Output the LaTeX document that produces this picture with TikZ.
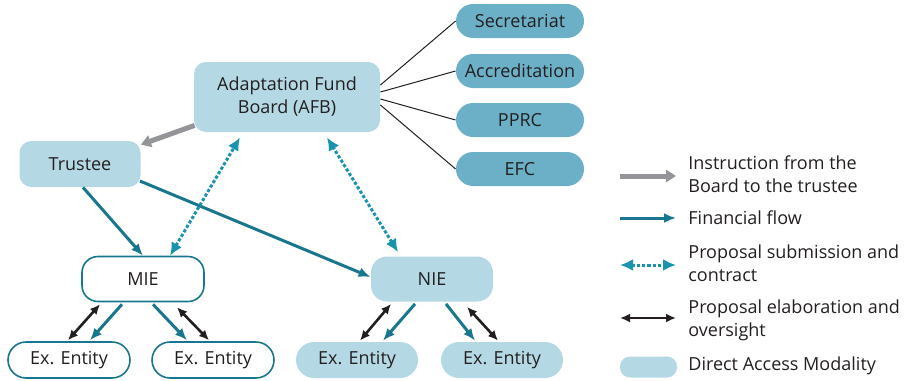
\documentclass[tikz,border=0pt]{standalone}
\usepackage{fontspec}
\setmainfont{Open Sans}
\usepackage{xcolor}
\usetikzlibrary{arrows.meta}

\definecolor{boardblue}{HTML}{B4D8E4}
\definecolor{panelblue}{HTML}{6CB0C8}
\definecolor{flowteal}{HTML}{18778F}
\definecolor{propteal}{HTML}{1A93AE}
\definecolor{instrgray}{HTML}{939598}
\definecolor{inkblack}{HTML}{231F20}

\tikzset{
  box/.style={rectangle,rounded corners=6pt,fill=boardblue,text=inkblack,align=center},
  panel/.style={rectangle,rounded corners=8.5pt,fill=panelblue,text=inkblack,
    minimum width=64pt,minimum height=17pt,inner sep=1pt},
  entity/.style={rectangle,rounded corners=9pt,minimum width=61pt,minimum height=18pt,
    inner sep=1pt,text=inkblack},
  legtext/.style={anchor=west,align=left,text=inkblack,inner sep=0pt}
}

\begin{document}
\begin{tikzpicture}[x=0.5pt,y=-0.5pt,font=\fontsize{9}{11.5}\selectfont]
\useasboundingbox (0,0) rectangle (913,380);

\begin{scope}[every node/.style={box}]
    \node[minimum width=93pt,minimum height=35pt] (AFB) at (287,97) {Adaptation Fund\\Board (AFB)};
    \node[minimum width=60.5pt,minimum height=23pt] (T) at (80,164) {Trustee};
    \node[minimum width=61pt,minimum height=22.5pt,rounded corners=8pt,fill=white,draw=flowteal,thick] (MIE) at (143,279) {MIE};
    \node[minimum width=61pt,minimum height=22.5pt,rounded corners=8pt] (NIE) at (432,279) {NIE};
    \end{scope}

\node[panel] (S) at (520,21) {Secretariat};
\node[panel] (A) at (520,71) {Accreditation};
\node[panel] (P) at (520,120) {PPRC};
\node[panel] (E) at (520,169) {EFC};

\node[entity,fill=white,draw=flowteal,thick] (X1) at (69,360) {Ex. Entity};
\node[entity,fill=white,draw=flowteal,thick] (X2) at (213,360) {Ex. Entity};
\node[entity,fill=boardblue] (X3) at (357,360) {Ex. Entity};
\node[entity,fill=boardblue] (X4) at (502,360) {Ex. Entity};

% board to its committees
\begin{scope}[every edge/.style={draw=inkblack,line width=0.5pt}]
    \path ([shift={(0,-12)}]AFB.east) edge (S.west)
          ([shift={(0,-5)}]AFB.east) edge (A.west)
          ([shift={(0,2)}]AFB.east) edge (P.west)
          ([shift={(0,8)}]AFB.east) edge (E.west);
    \end{scope}

\begin{scope}[every edge/.style={draw}]
    \path [-{Triangle[length=5pt,width=6pt]},instrgray,line width=2.5pt]
        ([shift={(1,-7)}]AFB.south west) edge ([shift={(0,4)}]T.north east);
    \path [-{Latex[length=6pt,width=5pt]},flowteal,line width=1.5pt]
        ([shift={(3,0)}]T.south) edge (MIE.north)
        ([shift={(-1,17)}]T.east) edge ([shift={(0,-2)}]NIE.west)
        ([shift={(-21,2)}]MIE.south) edge ([shift={(21,-1)}]X1.north)
        ([shift={(10,2)}]MIE.south) edge ([shift={(-26,-1)}]X2.north)
        ([shift={(-17,2)}]NIE.south) edge ([shift={(26,-1)}]X3.north)
        ([shift={(14,2)}]NIE.south) edge ([shift={(-27,-1)}]X4.north);
    \path [{Latex[length=6.5pt,width=6pt]}-{Latex[length=6.5pt,width=6pt]},propteal,line width=1.5pt,dash pattern=on 1.6pt off 1pt]
        ([shift={(27,0)}]MIE.north) edge ([shift={(-47,5)}]AFB.south)
        ([shift={(-34,-4)}]NIE.north) edge ([shift={(40,5)}]AFB.south);
    \path [{Latex[length=5pt,width=4.5pt]}-{Latex[length=5pt,width=4.5pt]},inkblack,line width=1.3pt]
        ([shift={(-43,2)}]MIE.south) edge ([shift={(-1,-1)}]X1.north)
        ([shift={(34,5)}]MIE.south) edge ([shift={(-4,-1)}]X2.north)
        ([shift={(-41,2)}]NIE.south) edge ([shift={(3,-1)}]X3.north)
        ([shift={(35,5)}]NIE.south) edge ([shift={(-4,-1)}]X4.north);
    \end{scope}

% legend
\coordinate (L1) at (620,176); \coordinate (R1) at (676,176);
\coordinate (L2) at (620,218); \coordinate (R2) at (676,218);
\coordinate (L3) at (620,265); \coordinate (R3) at (676,265);
\coordinate (L4) at (620,318); \coordinate (R4) at (676,318);
\draw[-{Triangle[length=5pt,width=6pt]},instrgray,line width=2.5pt] (L1) -- (R1);
\draw[-{Latex[length=6pt,width=5pt]},flowteal,line width=1.5pt] (L2) -- (R2);
\draw[{Latex[length=6.5pt,width=6pt]}-{Latex[length=6.5pt,width=6pt]},propteal,line width=1.5pt,dash pattern=on 1.6pt off 1pt] (L3) -- (R3);
\draw[{Latex[length=5pt,width=4.5pt]}-{Latex[length=5pt,width=4.5pt]},inkblack,line width=1.3pt] (L4) -- (R4);
\node[rectangle,rounded corners=5pt,fill=boardblue,minimum width=28.5pt,minimum height=10.5pt] (K) at (648.5,367) {};

\node[legtext] (t1) at (688,174) {Instruction from the\\Board to the trustee};
\node[legtext] (t2) at (688,218) {Financial flow};
\node[legtext] (t3) at (688,263) {Proposal submission and\\contract};
\node[legtext] (t4) at (688,320) {Proposal elaboration and\\oversight};
\node[legtext] (t5) at (688,366) {Direct Access Modality};

\end{tikzpicture}
\end{document}
